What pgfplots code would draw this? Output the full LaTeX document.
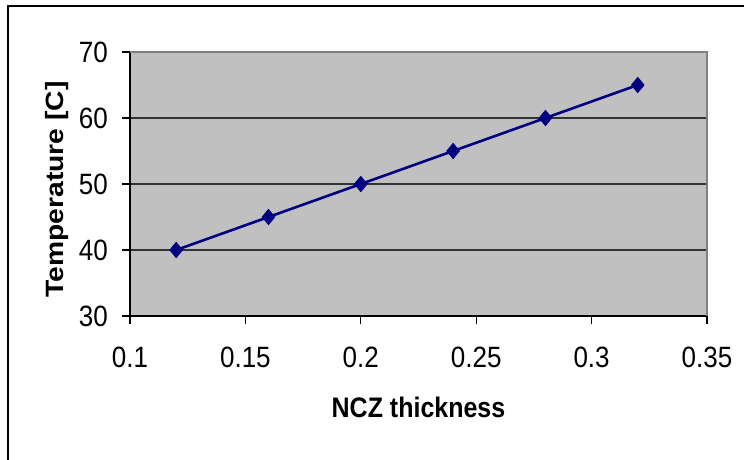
\documentclass[border=0pt]{standalone}
\usepackage{fontspec}
\setmainfont{Liberation Sans}
\usepackage{graphicx}
\usepackage{pgfplots}
\pgfplotsset{compat=1.18}
\definecolor{excelgray}{RGB}{192,192,192}
\definecolor{navy}{RGB}{0,0,128}
\begin{document}
\begin{tikzpicture}[x=1pt,y=1pt]
\useasboundingbox (0,0) rectangle (744,459);
\fill[white] (0,0) rectangle (744,459);
\draw[line width=2.5pt] (8,-5) -- (8,453) -- (750,453);
\begin{axis}[
  at={(130pt,143pt)}, anchor=south west,
  scale only axis, width=577pt, height=264pt,
  xmin=0.1, xmax=0.35, ymin=30, ymax=70,
  xtick={0.1,0.15,0.2,0.25,0.3,0.35},
  ytick={30,40,50,60,70},
  axis x line*=bottom, axis y line*=left,
  axis line style={black, line width=1.4pt, -},
  axis background/.style={fill=excelgray},
  ymajorgrids, grid style={black!80, line width=1.3pt},
  tick align=outside, major tick length=8pt,
  tick style={black, line width=1.3pt},
  /pgf/number format/assume math mode=true,
  tick label style={font=\fontsize{26}{30}\selectfont, inner sep=0pt},
  xticklabel={\scalebox{1}[1.13]{\pgfmathprintnumber{\tick}}},
  yticklabel={\scalebox{1}[1.13]{\pgfmathprintnumber{\tick}}},
  xticklabel style={anchor=north, yshift=-23pt},
  yticklabel style={anchor=east, xshift=-14pt},
  xlabel={\scalebox{1}[1.13]{NCZ thickness}},
  ylabel={\scalebox{1.13}[1]{Temperature [C]}},
  label style={font=\fontsize{25}{30}\selectfont\bfseries, inner sep=0pt},
  xlabel style={at={(axis description cs:0.5,0)}, anchor=center, yshift=-91.5pt},
  ylabel style={at={(axis description cs:0,0.479)}, anchor=center, yshift=73pt},
  clip=false,
]
\addplot[navy, line width=2.6pt, mark=diamond*, mark size=7.5pt, mark options={solid, fill=navy, xscale=1.1, line width=1pt}]
  coordinates {(0.12,40) (0.16,45) (0.2,50) (0.24,55) (0.28,60) (0.32,65)};
\end{axis}
\draw[gray, line width=1.5pt] (130,407) -- (707,407) -- (707,143);
\end{tikzpicture}
\end{document}
